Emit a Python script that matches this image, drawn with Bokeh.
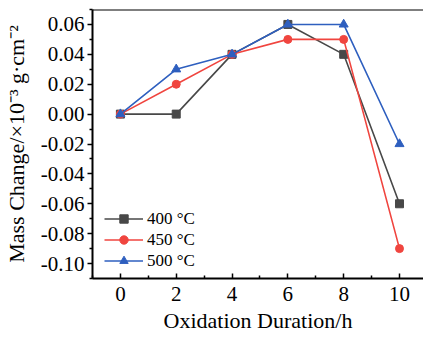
from bokeh.plotting import figure
from bokeh.models import Range1d, Span, Legend, LegendItem, FixedTicker, CustomJSTickFormatter
from bokeh.embed import file_html
from bokeh.resources import INLINE

hours = [0, 2, 4, 6, 8, 10]
m400 = [0.0, 0.0, 0.04, 0.06, 0.04, -0.06]
m450 = [0.0, 0.02, 0.04, 0.05, 0.05, -0.09]
m500 = [0.0, 0.03, 0.04, 0.06, 0.06, -0.02]
labels = ["400 °C", "450 °C", "500 °C"]
colors = ["#484848", "#f0453f", "#2e5fbf"]
y_ticks = [-0.10, -0.08, -0.06, -0.04, -0.02, 0.0, 0.02, 0.04, 0.06]
y_minor = [-0.11, -0.09, -0.07, -0.05, -0.03, -0.01, 0.01, 0.03, 0.05, 0.07]
x_ticks = [0, 2, 4, 6, 8, 10]
x_minor = [-1, 1, 3, 5, 7, 9]
x_title = "Oxidation Duration/h"
y_title = "Mass Change/×10⁻³ g·cm⁻²"

FONT = "Liberation Serif"

p = figure(width=423, height=341, output_backend="svg", toolbar_location=None,
           x_range=Range1d(-1, 10.86), y_range=Range1d(-0.11, 0.07),
           min_border_left=91, min_border_right=0, min_border_top=9, min_border_bottom=63)
p.grid.visible = False
p.background_fill_color = "white"
p.border_fill_color = "white"
p.outline_line_color = None

# top border of the frame (right border is cut off in the reference)
p.add_layout(Span(location=0.07, dimension="width", line_color="black", line_width=2))

# axes
p.xaxis.ticker = FixedTicker(ticks=x_ticks, minor_ticks=x_minor)
p.yaxis.ticker = FixedTicker(ticks=y_ticks, minor_ticks=y_minor)
p.yaxis.formatter = CustomJSTickFormatter(code="return tick.toFixed(2);")
for ax in (p.xaxis[0], p.yaxis[0]):
    ax.axis_line_width = 2
    ax.axis_line_color = "black"
    ax.major_tick_line_color = "black"
    ax.minor_tick_line_color = "black"
    ax.major_tick_line_width = 1.5
    ax.minor_tick_line_width = 1.5
    ax.major_label_text_font = FONT
    ax.major_label_text_font_size = "21px"
    ax.major_label_text_color = "black"
    ax.axis_label_text_font = FONT
    ax.axis_label_text_font_size = "22px"
    ax.axis_label_text_font_style = "normal"
    ax.axis_label_text_color = "black"

p.xaxis.major_tick_in = 5
p.xaxis.major_tick_out = 0
p.xaxis.minor_tick_in = 3
p.xaxis.minor_tick_out = 0
p.xaxis.major_label_standoff = 8
p.xaxis.axis_label = x_title
p.xaxis.axis_label_standoff = 4

p.yaxis.major_tick_in = 0
p.yaxis.major_tick_out = 5
p.yaxis.minor_tick_in = 0
p.yaxis.minor_tick_out = 3
p.yaxis.major_label_standoff = 3
p.yaxis.axis_label = y_title
p.yaxis.axis_label_standoff = 9

# series
items = []
r = p.line(hours, m400, line_color=colors[0], line_width=1.6)
s = p.scatter(hours, m400, marker="square", size=8, fill_color=colors[0], line_color=colors[0])
items.append(LegendItem(label=labels[0], renderers=[r, s]))
r = p.line(hours, m450, line_color=colors[1], line_width=1.6)
s = p.scatter(hours, m450, marker="circle", size=8, fill_color=colors[1], line_color=colors[1])
items.append(LegendItem(label=labels[1], renderers=[r, s]))
r = p.line(hours, m500, line_color=colors[2], line_width=1.6)
s = p.scatter(hours, m500, marker="triangle", size=9, fill_color=colors[2], line_color=colors[2])
items.append(LegendItem(label=labels[2], renderers=[r, s]))

legend = Legend(items=items, location=(12, 7), padding=0, margin=0, spacing=0,
                glyph_width=39, glyph_height=21, label_height=21, label_standoff=4,
                label_text_font=FONT, label_text_font_size="17px", label_text_color="black",
                border_line_color=None, background_fill_alpha=0)
p.add_layout(legend, "center")

open("out.html", "w").write(file_html(p, INLINE))
